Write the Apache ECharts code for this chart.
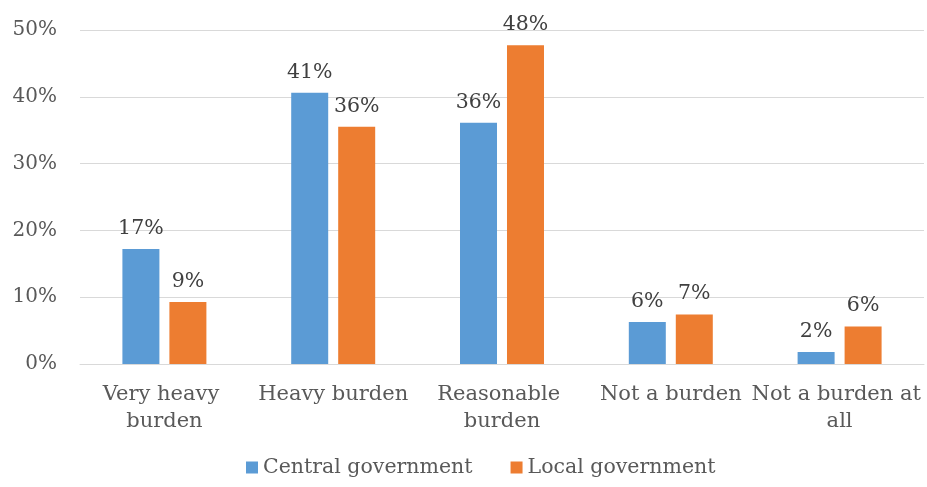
<!DOCTYPE html>
<html>
<head>
<meta charset="utf-8">
<script src="https://cdn.jsdelivr.net/npm/echarts@6/dist/echarts.min.js"></script>
<style>
  html, body { margin: 0; padding: 0; background: #fff; }
  #chart { width: 927px; height: 487px; }
</style>
</head>
<body>
<div id="chart"></div>
<script>
// Perceived burden, by level of government
const categories = ['Very heavy burden', 'Heavy burden', 'Reasonable burden', 'Not a burden', 'Not a burden at all'];
const centralGov = [17.2, 40.6, 36.1, 6.3, 1.8];
const localGov = [9.3, 35.5, 47.7, 7.4, 5.6];
const seriesNames = ['Central government', 'Local government'];
const yTicks = [0, 10, 20, 30, 40, 50];

const FONT = 'DejaVu Serif';
const chart = echarts.init(document.getElementById('chart'));

const labelCfg = {
  show: true,
  position: 'top',
  distance: 10,
  color: '#404040',
  fontFamily: FONT,
  fontSize: 20.5,
  formatter: p => Math.round(p.value) + '%'
};

chart.setOption({
  animation: false,
  grid: { left: 80, right: 3, top: 30, bottom: 123, containLabel: false, outerBoundsMode: 'none' },
  legend: {
    data: seriesNames,
    bottom: 4,
    left: 241,
    itemWidth: 12,
    itemHeight: 12,
    itemGap: 38,
    icon: 'rect',
    textStyle: { color: '#595959', fontFamily: FONT, fontSize: 20.5 }
  },
  xAxis: {
    type: 'category',
    data: categories,
    axisLine: { lineStyle: { color: '#D9D9D9', width: 1 } },
    axisTick: { show: false },
    axisLabel: {
      color: '#595959',
      fontFamily: FONT,
      fontSize: 21,
      lineHeight: 27,
      margin: 17,
      interval: 0,
      width: 182,
      overflow: 'break'
    }
  },
  yAxis: {
    type: 'value',
    min: yTicks[0],
    max: yTicks[yTicks.length - 1],
    interval: 10,
    axisLine: { show: false },
    axisTick: { show: false },
    splitLine: { lineStyle: { color: '#D9D9D9', width: 1 } },
    axisLabel: {
      color: '#595959',
      fontFamily: FONT,
      fontSize: 20,
      margin: 23,
      formatter: v => v + '%'
    }
  },
  series: [
    {
      name: seriesNames[0],
      type: 'bar',
      data: centralGov,
      barWidth: 37,
      barGap: '27%',
      itemStyle: { color: '#5B9BD5' },
      label: labelCfg
    },
    {
      name: seriesNames[1],
      type: 'bar',
      data: localGov,
      barWidth: 37,
      itemStyle: { color: '#ED7D31' },
      label: labelCfg
    }
  ]
});
</script>
</body>
</html>
